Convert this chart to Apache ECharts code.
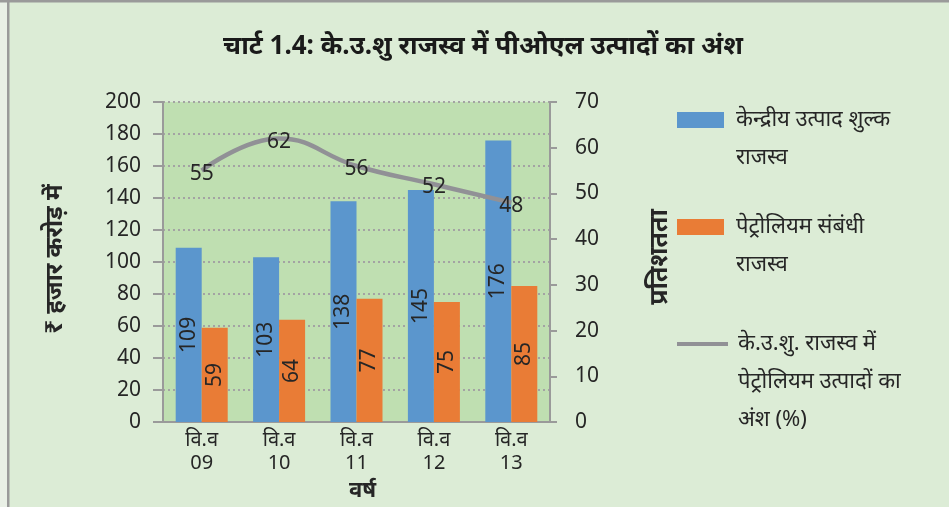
<!DOCTYPE html>
<html>
<head>
<meta charset="utf-8">
<script src="https://cdn.jsdelivr.net/npm/echarts@6/dist/echarts.min.js"></script>
<style>html,body{margin:0;padding:0;}#c{width:949px;height:507px;}</style>
</head>
<body>
<div id="c"></div>
<script>
const categories = ['वि.व\n09', 'वि.व\n10', 'वि.व\n11', 'वि.व\n12', 'वि.व\n13'];
const exciseRevenue = [109, 103, 138, 145, 176];
const petroleumRevenue = [59, 64, 77, 75, 85];
const petroleumShare = [55, 62, 56, 52, 48];
const seriesNames = ['केन्द्रीय उत्पाद शुल्क\nराजस्व', 'पेट्रोलियम संबंधी\nराजस्व', 'के.उ.शु. राजस्व में\nपेट्रोलियम उत्पादों का\nअंश (%)'];

const FONT = '"Noto Sans", "Open Sans", sans-serif';
const TXT = '#262626';
const chart = echarts.init(document.getElementById('c'));

function legendFor(name, top, iconW, iconH, nLines, padLeft) {
  const L = 38;
  const lead = '\n'.repeat(nLines - 1);
  return {
    left: 677, top: top, orient: 'vertical', padding: 0,
    itemWidth: iconW, itemHeight: iconH, icon: 'rect',
    selectedMode: false,
    data: [{ name: name }],
    formatter: function (n) { return lead + n; },
    textStyle: { fontFamily: FONT, fontSize: 22, color: TXT, lineHeight: L,
      padding: [0, 0, 0, padLeft] }
  };
}

chart.setOption({
  backgroundColor: '#dcecd6',
  textStyle: { fontFamily: FONT },
  title: {
    text: 'चार्ट 1.4: के.उ.शु राजस्व में पीओएल उत्पादों का अंश',
    left: 478, top: 29, textAlign: 'center',
    textStyle: { fontFamily: FONT, fontWeight: 'bold', fontSize: 26, color: '#1a1a1a' }
  },
  graphic: [
    { type: 'rect', shape: { x: 0, y: 0, width: 7, height: 507 }, style: { fill: '#e9f0e6' }, silent: true },
    { type: 'rect', shape: { x: 7, y: 0, width: 2.5, height: 507 }, style: { fill: '#9a9a9a' }, silent: true },
    { type: 'rect', shape: { x: 0, y: 0, width: 949, height: 2.5 }, style: { fill: '#9a9a9a' }, silent: true }
  ],
  legend: [
    legendFor(seriesNames[0], 63, 47, 16, 2, 7),
    legendFor(seriesNames[1], 170, 47, 16, 2, 7),
    legendFor(seriesNames[2], 249, 51, 4, 3, 5)
  ],
  grid: { left: 163, right: 399, top: 102, bottom: 81, show: true, backgroundColor: '#bfdfb1', borderWidth: 0 },
  xAxis: {
    type: 'category', data: categories,
    axisLine: { lineStyle: { color: '#9a9a9a', width: 2 } },
    axisTick: { show: false },
    axisLabel: { fontFamily: FONT, fontSize: 20, color: TXT, lineHeight: 23, margin: 7 },
    name: 'वर्ष', nameLocation: 'middle', nameGap: 54,
    nameTextStyle: { fontFamily: FONT, fontWeight: 'bold', fontSize: 22, color: TXT, padding: [0, 0, 0, 12] }
  },
  yAxis: [
    {
      type: 'value', min: 0, max: 200, interval: 20,
      axisLine: { show: true, lineStyle: { color: '#9a9a9a', width: 2 } },
      axisTick: { show: true, length: 10, lineStyle: { color: '#9a9a9a', width: 2 } },
      axisLabel: { fontFamily: FONT, fontSize: 21, color: TXT, margin: 22, padding: [6, 0, 0, 0] },
      splitLine: { show: true, lineStyle: { color: '#a3a3a3', type: [2, 3], width: 2 } },
      name: '₹ हजार करोड़ में', nameLocation: 'middle', nameGap: 96, nameRotate: 90,
      nameTextStyle: { fontFamily: FONT, fontWeight: 'bold', fontSize: 24, color: TXT, padding: [0, 0, 0, 6] }
    },
    {
      type: 'value', min: 0, max: 70, interval: 10, position: 'right',
      axisLine: { show: true, lineStyle: { color: '#9a9a9a', width: 2 } },
      axisTick: { show: true, length: 7, lineStyle: { color: '#9a9a9a', width: 2 } },
      axisLabel: { fontFamily: FONT, fontSize: 21, color: TXT, margin: 25, padding: [4, 0, 0, 0] },
      splitLine: { show: false },
      name: 'प्रतिशतता', nameLocation: 'middle', nameGap: 97, nameRotate: 90,
      nameTextStyle: { fontFamily: FONT, fontWeight: 'bold', fontSize: 25, color: TXT, padding: [0, 0, 0, 10] }
    }
  ],
  series: [
    {
      name: seriesNames[0], type: 'bar', data: exciseRevenue, barWidth: 26, barGap: '0%',
      itemStyle: { color: '#5b96cd' },
      label: { show: true, position: 'inside', rotate: 90, fontFamily: FONT, fontSize: 21, color: TXT }
    },
    {
      name: seriesNames[1], type: 'bar', data: petroleumRevenue, barWidth: 26,
      itemStyle: { color: '#e97c36' },
      label: { show: true, position: 'inside', rotate: 90, fontFamily: FONT, fontSize: 21, color: TXT }
    },
    {
      name: seriesNames[2], type: 'line', yAxisIndex: 1, data: petroleumShare, smooth: 0.45,
      symbol: 'circle', symbolSize: 0,
      lineStyle: { color: '#919196', width: 4.5 }, itemStyle: { color: '#919196' },
      label: { show: true, position: 'inside', offset: [0, 3], fontFamily: FONT, fontSize: 21, color: TXT }
    }
  ]
});
</script>
</body>
</html>
